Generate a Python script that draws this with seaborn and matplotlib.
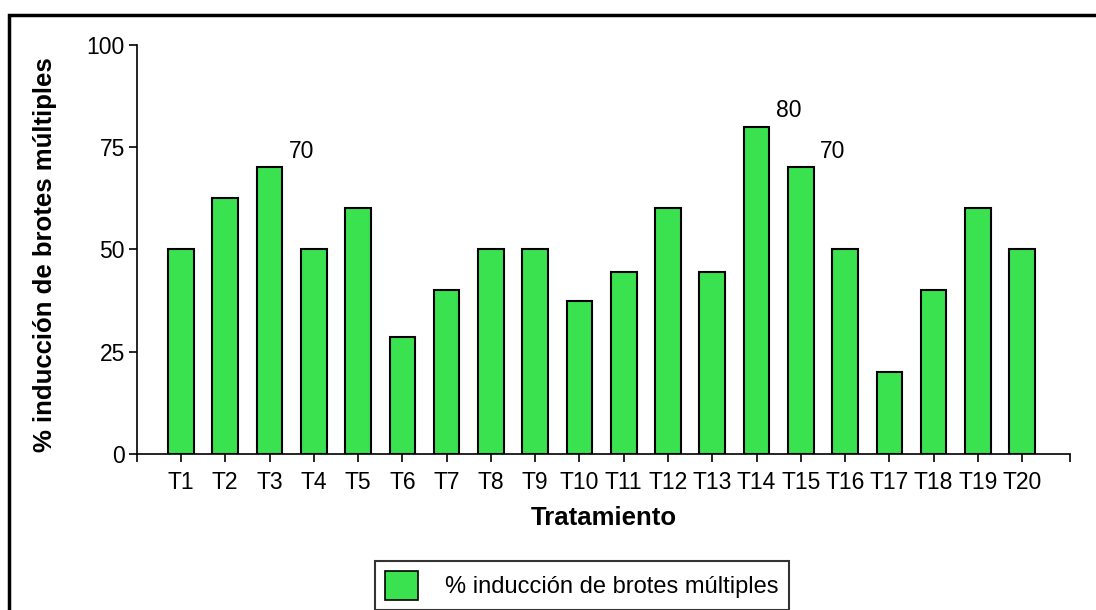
import matplotlib
matplotlib.use("Agg")
import matplotlib.pyplot as plt
import seaborn as sns
import pandas as pd
from matplotlib.patches import Rectangle, Patch

categories = [f"T{i}" for i in range(1, 21)]
values = [50, 62.5, 70, 50, 60, 28.6, 40, 50, 50, 37.5,
          44.4, 60, 44.4, 80, 70, 50, 20, 40, 60, 50]
annotated = {"T3": "70", "T14": "80", "T15": "70"}
series_name = "% inducción de brotes múltiples"
x_title = "Tratamiento"
y_ticks = [0, 25, 50, 75, 100]

sns.set_style("ticks")
plt.rcParams['font.family'] = ['Liberation Sans', 'DejaVu Sans']
plt.rcParams['text.color'] = 'black'
plt.rcParams['axes.labelcolor'] = 'black'

bar_color = "#3BE250"
fig = plt.figure(figsize=(10.96, 6.10), dpi=100)
ax = fig.add_axes([136.7/1096, 1-454/610, (1070-136.7)/1096, (454-44.7)/610])

df = pd.DataFrame({"cat": categories, "val": values})
sns.barplot(data=df, x="cat", y="val", color=bar_color, edgecolor="black",
            linewidth=1.5, width=0.58, saturation=1, ax=ax)

ax.set_xlim(-1.0, 20.08)
ax.set_ylim(0, 100)
ax.set_yticks(y_ticks)
ax.set_xticks([-1.0, 20.08], minor=True)
for s in ["top", "right"]:
    ax.spines[s].set_visible(False)
for s in ["left", "bottom"]:
    ax.spines[s].set_linewidth(1.2)
    ax.spines[s].set_color("black")
ax.tick_params(axis="both", which="both", direction="out", width=1.2,
               labelsize=16.5, colors="black")
ax.tick_params(axis="x", which="both", length=6, pad=6.5)
ax.tick_params(axis="y", length=5.5, pad=3)

for i, c in enumerate(categories):
    if c in annotated:
        ax.text(i + 0.72, values[i] + 4, annotated[c], fontsize=16.5,
                ha="center", va="center")

ax.set_xlabel(x_title, fontsize=18.5, fontweight="bold")
ax.set_ylabel(series_name, fontsize=18.5, fontweight="bold")
ax.xaxis.set_label_coords(0.5, (454-518)/409.3)
ax.xaxis.label.set_va("center")
ax.yaxis.set_label_coords((45-136.7)/933.3, 0.487)
ax.yaxis.label.set_va("center")

handle = Patch(facecolor=bar_color, edgecolor="black", linewidth=1.2)
leg = fig.legend([handle], [series_name], loc="upper left",
                 bbox_to_anchor=(375/1096, 1-561/610), fontsize=17,
                 frameon=True, fancybox=False, handlelength=1.4,
                 handleheight=1.5, handletextpad=1.15, borderpad=0.42,
                 borderaxespad=0)
leg.get_frame().set_edgecolor("black")
leg.get_frame().set_linewidth(1.5)

fig.patches.append(Rectangle((9/1096, -0.1), 1.2, 0.1 + 1 - 15/610,
                             transform=fig.transFigure, fill=False,
                             edgecolor="black", linewidth=2.5, zorder=10))

fig.savefig("out.png", dpi=100)
